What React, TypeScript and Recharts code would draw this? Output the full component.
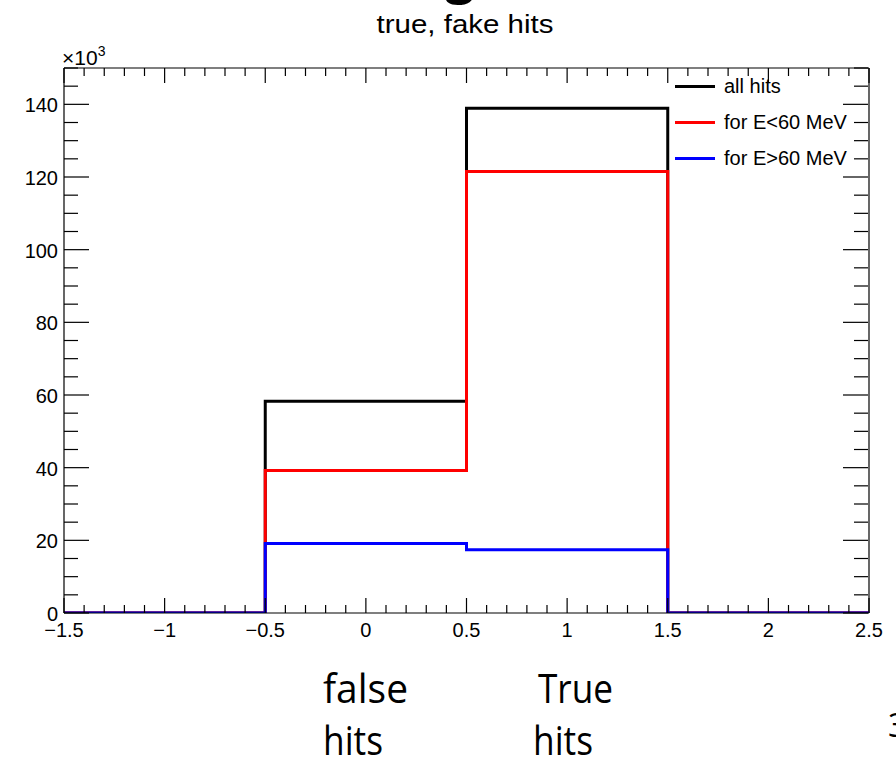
import { ComposedChart, Line, XAxis, YAxis, Legend, ReferenceLine } from 'recharts'

// bin edges of the true/fake flag histogram (counts in units of 10^3)
const binEdges = [-1.5, -0.5, 0.5, 1.5, 2.5]
const allHits = [0, 58.3, 138.9, 0]
const lowEnergy = [0, 39.2, 121.5, 0]
const highEnergy = [0, 19.1, 17.4, 0]

const seriesNames = ['all hits', 'for E<60 MeV', 'for E>60 MeV']
const seriesColors = ['#000000', '#ff0000', '#0000ff']

const xMajorTicks = [-1.5, -1, -0.5, 0, 0.5, 1, 1.5, 2, 2.5]
const yMajorTicks = [0, 20, 40, 60, 80, 100, 120, 140]

// minor ticks: 0.1 on x, 5 on y
const xTicks = Array.from({ length: 41 }, (_, i) => Math.round((-1.5 + i * 0.1) * 10) / 10)
const yTicks = Array.from({ length: 31 }, (_, i) => i * 5)

const data = binEdges.map((x, i) => {
  const b = Math.min(i, allHits.length - 1)
  return { x, all: allHits[b], low: lowEnergy[b], high: highEnergy[b] }
})

const W = 896
const H = 761
const MARGIN = { top: 68, right: 27, bottom: 147, left: 63 }
// frame edges for the mirrored ROOT-style ticks
const FRAME_TOP = MARGIN.top
const FRAME_RIGHT = W - MARGIN.right - 1

const FONT = '"Liberation Sans", Arial, Helvetica, sans-serif'
const SLIDE_FONT = '"Open Sans", "Noto Sans", sans-serif'

const isXMajor = (v: number) => xMajorTicks.some(t => Math.abs(t - v) < 1e-6)
const isYMajor = (v: number) => yMajorTicks.includes(v)
const fmt = (v: number) => (v < 0 ? '\u2212' + String(-v) : String(v))

// ticks point into the frame on both sides, labels only on majors
const XTick = ({ x, y, payload }: any) => {
  const len = isXMajor(payload.value) ? 15 : 8
  return (
    <g>
      <line x1={x} x2={x} y1={y} y2={y - len} stroke="#000" strokeWidth={1.2} />
      <line x1={x} x2={x} y1={FRAME_TOP} y2={FRAME_TOP + len} stroke="#000" strokeWidth={1.2} />
      {isXMajor(payload.value) && (
        <text x={x} y={y + 24} textAnchor="middle" fontSize={20} fontFamily={FONT} fill="#000">
          {fmt(payload.value)}
        </text>
      )}
    </g>
  )
}

const YTick = ({ x, y, payload }: any) => {
  const len = isYMajor(payload.value) ? 25 : 14
  return (
    <g>
      <line x1={x} x2={x + len} y1={y} y2={y} stroke="#000" strokeWidth={1.2} />
      <line x1={FRAME_RIGHT} x2={FRAME_RIGHT - len} y1={y} y2={y} stroke="#000" strokeWidth={1.2} />
      {isYMajor(payload.value) && (
        <text x={x - 6} y={y + 8} textAnchor="end" fontSize={20} fontFamily={FONT} fill="#000">
          {payload.value}
        </text>
      )}
    </g>
  )
}

const HistLegend = ({ payload }: any) => (
  <div style={{ fontFamily: FONT, fontSize: 20, color: '#000' }}>
    {(payload ?? []).map((p: any) => (
      <div key={p.value} style={{ display: 'flex', alignItems: 'center', height: 36, whiteSpace: 'nowrap' }}>
        <span style={{ display: 'inline-block', width: 40, height: 3, background: p.color, marginRight: 9 }} />
        <span>{p.value}</span>
      </div>
    ))}
  </div>
)

const axisLine = { stroke: '#000', strokeWidth: 1.2 }

export default function App() {
  return (
    <div style={{ position: 'absolute', left: 0, top: 0, width: W, height: H, background: '#fff', overflow: 'hidden' }}>
      <ComposedChart width={W} height={H} data={data} margin={MARGIN}>
        <XAxis
          dataKey="x"
          type="number"
          domain={[-1.5, 2.5]}
          ticks={xTicks}
          interval={0}
          allowDataOverflow
          height={1}
          tickSize={0}
          tickMargin={0}
          tickLine={false}
          axisLine={axisLine}
          tick={<XTick />}
        />
        <YAxis
          type="number"
          domain={[0, 150]}
          ticks={yTicks}
          interval={0}
          allowDataOverflow
          width={1}
          tickSize={0}
          tickMargin={0}
          tickLine={false}
          axisLine={axisLine}
          tick={<YTick />}
        />
        {/* top and right sides of the frame */}
        <ReferenceLine y={150} stroke="#000" strokeWidth={1.2} ifOverflow="visible" />
        <ReferenceLine x={2.5} stroke="#000" strokeWidth={1.2} ifOverflow="visible" />
        <Legend
          layout="horizontal"
          verticalAlign="middle"
          align="center"
          content={<HistLegend />}
          wrapperStyle={{ position: 'absolute', left: 675, top: 68, width: 'auto', height: 'auto' }}
        />
        <Line dataKey="all" name={seriesNames[0]} type="stepAfter" stroke={seriesColors[0]} strokeWidth={3}
          dot={false} activeDot={false} isAnimationActive={false} strokeLinejoin="miter" />
        <Line dataKey="low" name={seriesNames[1]} type="stepAfter" stroke={seriesColors[1]} strokeWidth={3}
          dot={false} activeDot={false} isAnimationActive={false} strokeLinejoin="miter" />
        <Line dataKey="high" name={seriesNames[2]} type="stepAfter" stroke={seriesColors[2]} strokeWidth={3}
          dot={false} activeDot={false} isAnimationActive={false} strokeLinejoin="miter" />
      </ComposedChart>

      <svg width={W} height={H} style={{ position: 'absolute', left: 0, top: 0, pointerEvents: 'none' }}>
        {/* tail of the slide heading above the plot */}
        <text x={460} y={-8} textAnchor="middle" fontSize={52} fontWeight={700} fontFamily={SLIDE_FONT} fill="#000">g</text>
        <text x={465} y={33} textAnchor="middle" fontSize={26} fontFamily={FONT} fill="#000"
          textLength={177} lengthAdjust="spacingAndGlyphs">true, fake hits</text>
        <text x={62} y={65} fontSize={21} fontFamily={FONT} fill="#000">
          ×10<tspan fontSize={14} dy={-9}>3</tspan>
        </text>

        <text x={323} y={703} fontSize={40} fontFamily={SLIDE_FONT} fill="#000" textLength={85} lengthAdjust="spacingAndGlyphs">false</text>
        <text x={323} y={755} fontSize={40} fontFamily={SLIDE_FONT} fill="#000" textLength={60} lengthAdjust="spacingAndGlyphs">hits</text>
        <text x={538} y={703} fontSize={40} fontFamily={SLIDE_FONT} fill="#000" textLength={75} lengthAdjust="spacingAndGlyphs">True</text>
        <text x={533} y={755} fontSize={40} fontFamily={SLIDE_FONT} fill="#000" textLength={60} lengthAdjust="spacingAndGlyphs">hits</text>
        <text x={888} y={737} fontSize={32} fontFamily={SLIDE_FONT} fill="#000">3</text>
      </svg>
    </div>
  )
}
